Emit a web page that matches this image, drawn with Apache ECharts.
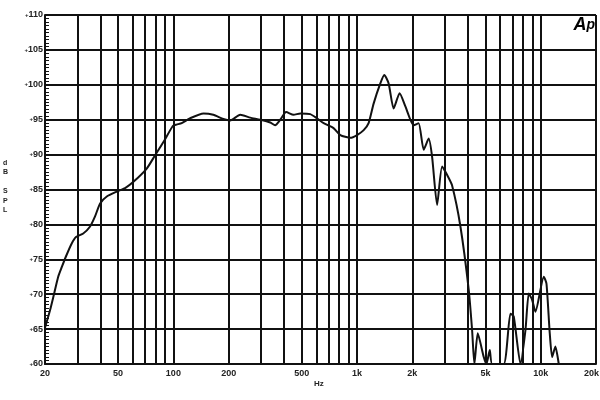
<!DOCTYPE html>
<html>
<head>
<meta charset="utf-8">
<script src="https://cdn.jsdelivr.net/npm/echarts@6/dist/echarts.min.js"></script>
<style>html,body{margin:0;padding:0;background:#fff}#c{width:600px;height:400px}</style>
</head>
<body>
<div id="c"></div>
<script>
const freqs = [20,21.3,22.2,23.6,24.7,26.0,28.0,29.5,32.3,35.2,37.4,39.9,43.4,49.2,54.6,60.6,71.6,79.5,88.3,99.3,104,111,123,146,165,187,204,231,262,297,337,358,382,411,451,491,556,605,658,745,811,919,1000,1087,1156,1231,1339,1407,1486,1582,1706,1833,2033,2164,2306,2455,2562,2728,2904,3091,3290,3655,4057,4230,4355,4541,4896,5063,5280,5440,6290,6843,7131,7762,8262,8612,8980,9360,10395,10750,11200,11540,12020,12540];
const spl = [65.2,67.7,69.6,72.5,73.9,75.4,77.3,78.2,78.7,79.7,81.1,83.0,84.0,84.7,85.2,86.1,88.0,89.9,91.8,94.1,94.3,94.5,95.2,95.9,95.7,95.1,94.9,95.7,95.3,95.0,94.6,94.2,95.0,96.1,95.7,95.9,95.8,95.2,94.5,93.8,92.8,92.4,92.8,93.5,94.5,97.3,100.2,101.4,100.2,96.6,98.8,96.9,94.2,94.5,90.7,92.3,89.7,82.8,88.3,87.1,85.6,79.7,70.6,64.9,60,64.4,61.0,60,62.0,60,60,67.2,66.8,60,64.9,70.1,69.2,67.5,72.5,71.5,64.4,61.0,62.5,60];
const gridFreqs = [20,30,40,50,60,70,80,90,100,200,300,400,500,600,700,800,900,1000,2000,3000,4000,5000,6000,7000,8000,9000,10000,20000];
const xTickValues = [20,50,100,200,500,1000,2000,5000,10000,20000];
const xTickLabels = ['20','50','100','200','500','1k','2k','5k','10k','20k'];

const chart = echarts.init(document.getElementById('c'), null, {renderer:'canvas'});
const dark = '#111';
chart.setOption({
  animation: false,
  backgroundColor: '#fff',
  grid: {left: 45, right: 4, top: 15, bottom: 36, containLabel: false, outerBoundsMode: 'none'},
  xAxis: {
    type: 'log', logBase: 10, min: 20, max: 20000,
    axisLine: {show: true, lineStyle: {color: dark, width: 2}},
    axisTick: {show: false},
    splitLine: {show: false},
    minorTick: {show: false},
    axisLabel: {
      customValues: xTickValues,
      formatter: v => {
        const i = xTickValues.findIndex(t => Math.abs(t - v) < 1e-6 * t);
        if (i < 0) return '';
        return i === xTickValues.length - 1 ? '{r|' + xTickLabels[i] + '}' : xTickLabels[i];
      },
      rich: {r: {fontSize: 9, fontWeight: 'bold', fontFamily: 'Liberation Sans', color: '#222', padding: [0, 9, 0, 0]}},
      fontSize: 9, fontWeight: 'bold', fontFamily: 'Liberation Sans', color: '#222', margin: 5,
      hideOverlap: false
    }
  },
  yAxis: {
    type: 'value', min: 60, max: 110, interval: 5,
    axisLine: {show: true, lineStyle: {color: dark, width: 2}},
    axisTick: {show: true, inside: true, length: 5, lineStyle: {color: dark, width: 1}},
    minorTick: {show: true, splitNumber: 10, length: 4, lineStyle: {color: dark, width: 1}},
    splitLine: {show: true, lineStyle: {color: dark, width: 2}},
    axisLabel: {
      formatter: v => '{p|+}{v|' + v + '}',
      rich: {p: {fontSize: 6, fontWeight: 'bold', color: '#222', fontFamily: 'Liberation Sans'}, v: {fontSize: 9, fontWeight: 'bold', color: '#222', fontFamily: 'Liberation Sans'}},
      margin: 2
    }
  },
  series: [{
    type: 'line',
    data: freqs.map((f, i) => [f, spl[i]]),
    showSymbol: false, symbol: 'none',
    smooth: 0.2,
    clip: true,
    lineStyle: {color: dark, width: 2},
    markLine: {
      silent: true, symbol: ['none', 'none'], label: {show: false},
      lineStyle: {color: dark, width: 2, type: 'solid'},
      emphasis: {disabled: true},
      data: gridFreqs.map(f => ({xAxis: f}))
    },
    z: 5
  }],
  graphic: [
    {type: 'text', left: 314, top: 380, style: {text: 'Hz', font: 'bold 8px "Liberation Sans"', fill: '#222'}},
    {type: 'text', left: 3, top: 158, style: {text: 'd\nB\n\nS\nP\nL', font: 'bold 7px "Liberation Sans"', fill: '#222', lineHeight: 9.5}},
    {type: 'text', right: 5, top: 16, style: {text: '{a|A}{b|p}', rich: {a: {font: 'italic bold 18px "Liberation Sans"', fill: '#000'}, b: {font: 'italic bold 14px "Liberation Sans"', fill: '#000'}}}}
  ]
});
</script>
</body>
</html>
